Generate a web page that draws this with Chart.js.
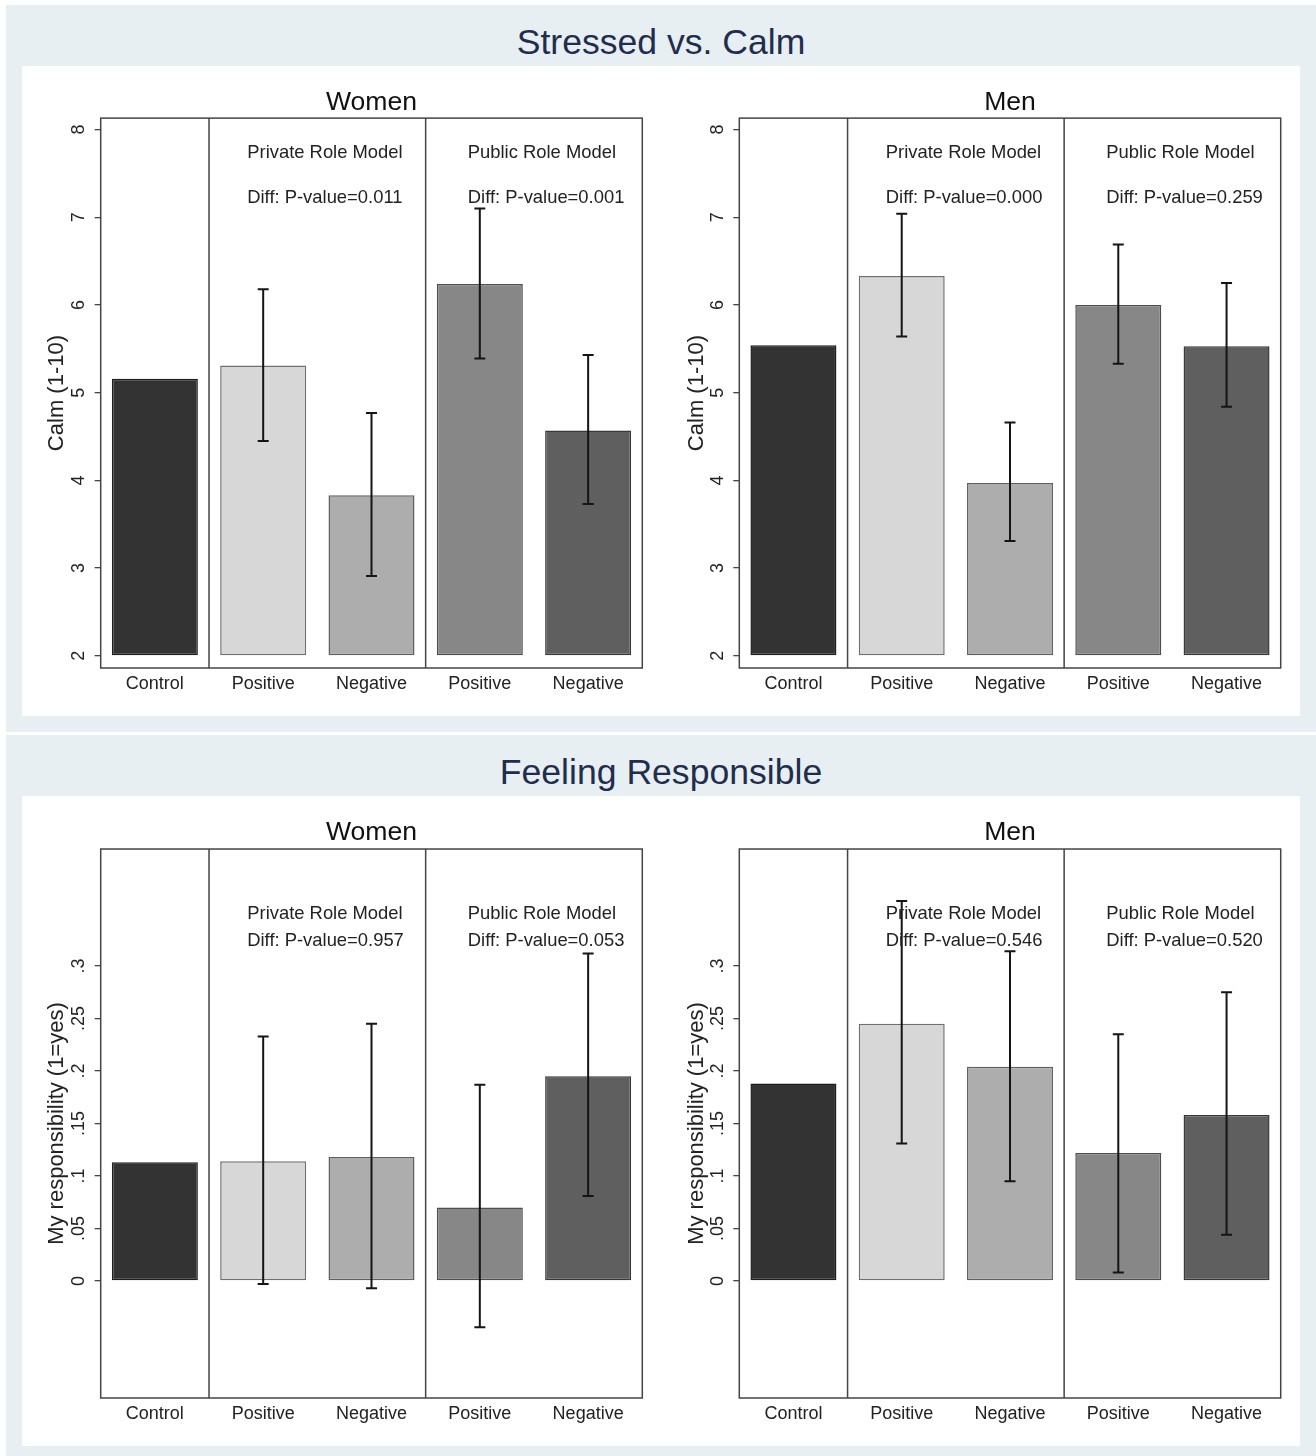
<!DOCTYPE html>
<html><head><meta charset="utf-8">
<script src="https://cdn.jsdelivr.net/npm/chart.js@4/dist/chart.umd.min.js"></script>
<style>
html,body{margin:0;padding:0;background:#fff;}
body{width:1316px;height:1456px;position:relative;overflow:hidden;font-family:'Liberation Sans',Arial,sans-serif;}
.sec{position:absolute;left:6px;width:1310px;background:#e8eff2;}
.panel{position:absolute;left:22px;width:1278px;background:#fff;}
.stitle{position:absolute;left:6px;width:1310px;text-align:center;font-size:35.6px;line-height:35.6px;color:#1f2e4e;white-space:nowrap;}
canvas{position:absolute;}
</style></head>
<body>
<div class="sec" style="top:5px;height:727px"></div>
<div class="sec" style="top:735px;height:721px"></div>
<div class="panel" style="top:66px;height:650px"></div>
<div class="panel" style="top:796px;height:650px"></div>
<div class="stitle" style="top:25px">Stressed vs. Calm</div>
<div class="stitle" style="top:754.5px">Feeling Responsible</div>
<canvas id="cW1" width="640" height="650" style="left:22px;top:66px"></canvas>
<canvas id="cM1" width="638" height="650" style="left:662px;top:66px"></canvas>
<canvas id="cW2" width="640" height="650" style="left:22px;top:796px"></canvas>
<canvas id="cM2" width="638" height="650" style="left:662px;top:796px"></canvas>
<script>
// ---------- data ----------
const categories = ['Control', 'Positive', 'Negative', 'Positive', 'Negative'];
const groupLabels = ['Private Role Model', 'Public Role Model'];

const calmTicks = [2, 3, 4, 5, 6, 7, 8];
const respTicks = [0, 0.05, 0.1, 0.15, 0.2, 0.25, 0.3];

const calmWomen     = [5.16, 5.31, 3.83, 6.24, 4.57];
const calmWomenLow  = [null, 4.45, 2.91, 5.39, 3.73];
const calmWomenHigh = [null, 6.18, 4.77, 7.10, 5.43];
const calmWomenP    = ['Diff: P-value=0.011', 'Diff: P-value=0.001'];

const calmMen     = [5.54, 6.33, 3.97, 6.00, 5.53];
const calmMenLow  = [null, 5.64, 3.31, 5.33, 4.84];
const calmMenHigh = [null, 7.04, 4.66, 6.69, 6.25];
const calmMenP    = ['Diff: P-value=0.000', 'Diff: P-value=0.259'];

const respWomen     = [0.113, 0.114, 0.118, 0.070, 0.195];
const respWomenLow  = [null, -0.003, -0.007, -0.044, 0.081];
const respWomenHigh = [null, 0.233, 0.245, 0.187, 0.312];
const respWomenP    = ['Diff: P-value=0.957', 'Diff: P-value=0.053'];

const respMen     = [0.188, 0.245, 0.204, 0.122, 0.158];
const respMenLow  = [null, 0.131, 0.095, 0.008, 0.044];
const respMenHigh = [null, 0.362, 0.314, 0.235, 0.275];
const respMenP    = ['Diff: P-value=0.546', 'Diff: P-value=0.520'];

// ---------- styles ----------
const FONT = "'Liberation Sans', Arial, sans-serif";
const barFill   = ['#333333', '#d7d7d7', '#adadad', '#878787', '#5f5f5f'];
const barBorder = ['#1e1e1e', '#707070', '#606060', '#4e4e4e', '#383838'];
Chart.defaults.font.family = FONT;
Chart.defaults.color = '#222';

function fmtResp(v) {
  if (v === 0) return '0';
  return String(Math.round(v * 100) / 100).replace(/^0/, '');
}

function makeChart(id, cfg) {
  const decor = {
    id: 'decor_' + id,
    afterDatasetsDraw(chart) {
      const {ctx, chartArea: a, scales: {x, y}} = chart;
      const meta = chart.getDatasetMeta(0);
      ctx.save();
      // error bars
      ctx.strokeStyle = '#151515';
      ctx.lineWidth = 2;
      cfg.low.forEach((lo, i) => {
        if (lo === null) return;
        const px = meta.data[i].x;
        const y1 = y.getPixelForValue(lo), y2 = y.getPixelForValue(cfg.high[i]);
        ctx.beginPath();
        ctx.moveTo(px, y1); ctx.lineTo(px, y2);
        ctx.moveTo(px - 5.5, y1); ctx.lineTo(px + 5.5, y1);
        ctx.moveTo(px - 5.5, y2); ctx.lineTo(px + 5.5, y2);
        ctx.stroke();
      });
      // frame and group dividers
      ctx.strokeStyle = '#444';
      ctx.lineWidth = 1.5;
      ctx.strokeRect(a.left, a.top, a.width, a.height);
      [0.5, 2.5].forEach(v => {
        const px = x.getPixelForValue(v);
        ctx.beginPath(); ctx.moveTo(px, a.top); ctx.lineTo(px, a.bottom); ctx.stroke();
      });
      // group annotations
      ctx.fillStyle = '#222';
      ctx.font = '18.4px ' + FONT;
      ctx.textAlign = 'left';
      ctx.textBaseline = 'middle';
      const gx = [0.853, 2.889];
      groupLabels.forEach((g, k) => {
        const px = x.getPixelForValue(gx[k]);
        ctx.fillText(g, px, y.getPixelForValue(cfg.noteY[0]));
        ctx.fillText(cfg.pvals[k], px, y.getPixelForValue(cfg.noteY[1]));
      });
      ctx.restore();
    }
  };
  return new Chart(document.getElementById(id), {
    type: 'bar',
    data: {
      labels: categories,
      datasets: [{
        data: cfg.values,
        base: cfg.base,
        backgroundColor: barFill,
        borderColor: barBorder,
        borderWidth: 1.5,
        borderSkipped: false,
        categoryPercentage: 1,
        barPercentage: 0.794
      }]
    },
    options: {
      responsive: false,
      animation: false,
      devicePixelRatio: 1,
      layout: {padding: {left: 0, right: cfg.padRight, top: 0, bottom: 0}},
      plugins: {
        legend: {display: false},
        tooltip: {enabled: false},
        title: {
          display: true,
          text: cfg.title,
          fullSize: false,
          color: '#111',
          font: {size: 26.6, weight: 'normal', family: FONT},
          padding: {top: 20.2, bottom: cfg.titleBottom}
        }
      },
      scales: {
        x: {
          grid: {display: false, drawTicks: false},
          border: {display: false},
          ticks: {color: '#222', font: {size: 18}, padding: 5.5, maxRotation: 0, autoSkip: false},
          afterFit: s => { s.height = 48; }
        },
        y: {
          min: cfg.min,
          max: cfg.max,
          grid: {display: true, drawOnChartArea: false, drawTicks: true, tickLength: 6, color: '#444', lineWidth: 1.3},
          border: {display: false},
          ticks: {
            color: '#222', font: {size: 18}, minRotation: 90, maxRotation: 90,
            crossAlign: 'center', padding: cfg.tickPad,
            callback: cfg.fmt
          },
          afterBuildTicks: s => { s.ticks = cfg.ticks.map(v => ({value: v})); },
          title: {
            display: true, text: cfg.ytitle, color: '#222',
            font: {size: 22}, padding: {top: 21.8, bottom: 0}
          },
          afterFit: s => { s.width = cfg.yAxisW; }
        }
      }
    },
    plugins: [decor]
  });
}

const calmCommon = {base: 2, min: 1.861, max: 8.131, ticks: calmTicks, fmt: v => String(v),
  tickPad: 10.2, ytitle: 'Calm (1-10)', noteY: [7.735, 7.222], titleBottom: 0};
const respCommon = {base: 0, min: -0.1115, max: 0.4115, ticks: respTicks, fmt: fmtResp,
  tickPad: 2.7, ytitle: 'My responsibility (1=yes)', noteY: [0.350, 0.3243], titleBottom: 0.9};

makeChart('cW1', Object.assign({}, calmCommon, {title: 'Women', values: calmWomen, low: calmWomenLow, high: calmWomenHigh, pvals: calmWomenP, yAxisW: 78.7, padRight: 19.7}));
makeChart('cM1', Object.assign({}, calmCommon, {title: 'Men', values: calmMen, low: calmMenLow, high: calmMenHigh, pvals: calmMenP, yAxisW: 77.3, padRight: 19.3}));
makeChart('cW2', Object.assign({}, respCommon, {title: 'Women', values: respWomen, low: respWomenLow, high: respWomenHigh, pvals: respWomenP, yAxisW: 78.7, padRight: 19.7}));
makeChart('cM2', Object.assign({}, respCommon, {title: 'Men', values: respMen, low: respMenLow, high: respMenHigh, pvals: respMenP, yAxisW: 77.3, padRight: 19.3}));
</script>
</body></html>
